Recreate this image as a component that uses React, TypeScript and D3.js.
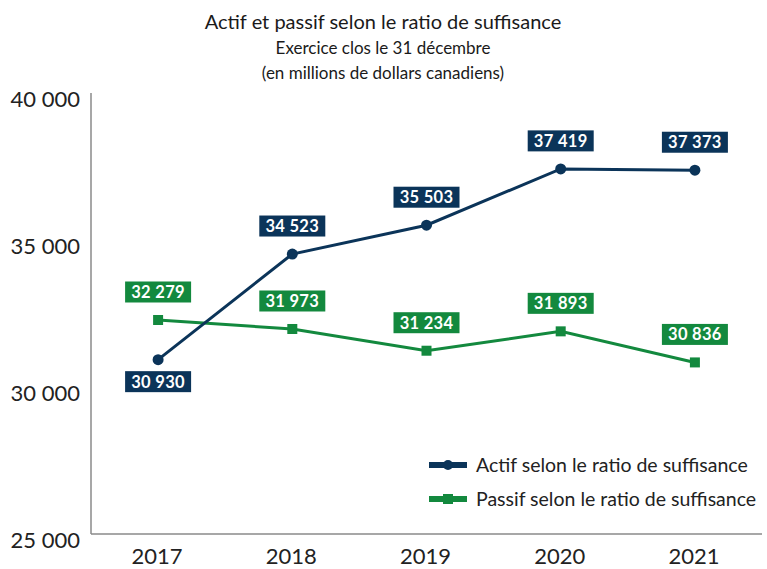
import React from "react";
import * as d3 from "d3";

const years = ["2017", "2018", "2019", "2020", "2021"];
const actif = [30930, 34523, 35503, 37419, 37373];
const passif = [32279, 31973, 31234, 31893, 30836];
const yTicks = [25000, 30000, 35000, 40000];
const seriesNames = ["Actif selon le ratio de suffisance", "Passif selon le ratio de suffisance"];
// label placement: 1 = above, -1 = below
const actifLabelPos = [-1, 1, 1, 1, 1];
const passifLabelPos = [1, 1, 1, 1, 1];

const BLUE = "#0b3459";
const GREEN = "#13893e";
const FONT = "Lato, 'Open Sans', sans-serif";

const fmt = (v: number) => {
  const s = String(v);
  return s.slice(0, s.length - 3) + " " + s.slice(s.length - 3);
};

export default function App() {
  const W = 767, H = 569;
  const left = 91, right = 762, top = 93, bottom = 534;
  const x = d3.scaleBand<string>().domain(years).range([left, right]);
  const cx = (yr: string) => (x(yr) as number) + x.bandwidth() / 2;
  const y = d3.scaleLinear().domain([25000, 40000]).range([bottom, top]);
  const line = d3.line<number>().x((_, i) => cx(years[i])).y((v) => y(v));

  const label = (v: number, i: number, pos: number, color: string, key: string) => {
    const px = cx(years[i]);
    const py = y(v);
    const bw = 66, bh = 21;
    const cy = pos > 0 ? py - 28 : py + 22;
    return (
      <g key={key}>
        <rect x={px - bw / 2} y={cy - bh / 2} width={bw} height={bh} fill={color} />
        <text x={px} y={cy + 6} textAnchor="middle" fill="#fff" fontSize={16.5} fontWeight={700} fontFamily={FONT} letterSpacing={0.3}>
          {fmt(v)}
        </text>
      </g>
    );
  };

  return (
    <svg width={W} height={H} style={{ position: "absolute", left: 0, top: 0 }} xmlns="http://www.w3.org/2000/svg">
      <rect width={W} height={H} fill="#fff" />
      <text x={383} y={29} textAnchor="middle" fontSize={20} fontFamily={FONT} fill="#1a1a1a">
        Actif et passif selon le ratio de suffisance
      </text>
      <text x={383} y={54} textAnchor="middle" fontSize={17} fontFamily={FONT} fill="#1a1a1a">
        Exercice clos le 31 décembre
      </text>
      <text x={383} y={79} textAnchor="middle" fontSize={17} fontFamily={FONT} fill="#1a1a1a">
        (en millions de dollars canadiens)
      </text>

      {/* axes */}
      <line x1={left} x2={left} y1={top} y2={bottom} stroke="#8a8a8a" strokeWidth={1.5} />
      <line x1={left} x2={right} y1={bottom} y2={bottom} stroke="#8a8a8a" strokeWidth={1.5} />
      {yTicks.map((t) => (
        <text key={t} x={80} y={y(t) + 13.5} textAnchor="end" fontSize={22} fontFamily={FONT} fill="#222">
          {fmt(t)}
        </text>
      ))}
      {years.map((yr) => (
        <text key={yr} x={cx(yr) - 1} y={564} textAnchor="middle" fontSize={22} fontFamily={FONT} fill="#222">
          {yr}
        </text>
      ))}

      {/* series */}
      <path d={line(passif) || ""} fill="none" stroke={GREEN} strokeWidth={3} />
      {passif.map((v, i) => (
        <rect key={"pm" + i} x={cx(years[i]) - 5} y={y(v) - 5} width={10} height={10} fill={GREEN} />
      ))}
      <path d={line(actif) || ""} fill="none" stroke={BLUE} strokeWidth={3} />
      {actif.map((v, i) => (
        <circle key={"am" + i} cx={cx(years[i])} cy={y(v)} r={5.5} fill={BLUE} />
      ))}
      {passif.map((v, i) => label(v, i, passifLabelPos[i], GREEN, "pl" + i))}
      {actif.map((v, i) => label(v, i, actifLabelPos[i], BLUE, "al" + i))}

      {/* legend */}
      {[BLUE, GREEN].map((c, i) => {
        const ly = 465 + i * 34;
        return (
          <g key={"lg" + i}>
            <line x1={429} x2={467} y1={ly} y2={ly} stroke={c} strokeWidth={6} />
            {i === 0 ? (
              <circle cx={448} cy={ly} r={5} fill={c} />
            ) : (
              <rect x={443} y={ly - 5} width={10} height={10} fill={c} />
            )}
            <text x={476} y={ly + 7} fontSize={19.5} fontFamily={FONT} fill="#222">
              {seriesNames[i]}
            </text>
          </g>
        );
      })}
    </svg>
  );
}
